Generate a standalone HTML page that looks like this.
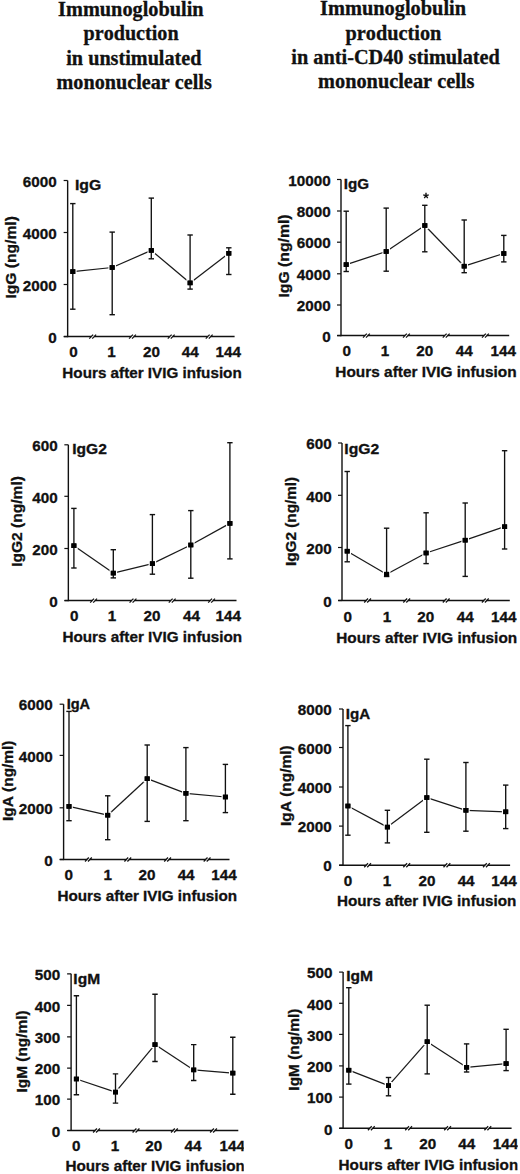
<!DOCTYPE html>
<html><head><meta charset="utf-8"><title>Immunoglobulin production</title><style>
html,body{margin:0;padding:0;background:#fff;width:520px;height:1174px;overflow:hidden;font-family:"Liberation Sans",sans-serif}
svg{display:block}
text{font-kerning:none;fill:#111;stroke:#111;stroke-width:0.3px}
.S{font-family:"Liberation Sans",sans-serif;font-weight:bold}
.T{font-family:"Liberation Serif",serif;font-weight:bold}
</style></head><body>
<svg width="520" height="1174" viewBox="0 0 520 1174">
<defs><clipPath id="clipG"><rect x="0" y="0" width="243.8" height="1174"/></clipPath><clipPath id="clipH"><rect x="0" y="0" width="517.7" height="1174"/></clipPath></defs>
<text class="T" x="58.12" y="16.3" font-size="20" textLength="145.49" lengthAdjust="spacingAndGlyphs">Immunoglobulin</text>
<text class="T" x="83.54" y="40.4" font-size="20" textLength="95.06" lengthAdjust="spacingAndGlyphs">production</text>
<text class="T" x="66.26" y="64.5" font-size="20" textLength="135.27" lengthAdjust="spacingAndGlyphs">in unstimulated</text>
<text class="T" x="56.56" y="88.5" font-size="20" textLength="155.23" lengthAdjust="spacingAndGlyphs">mononuclear cells</text>
<text class="T" x="320.01" y="15.4" font-size="20" textLength="146.09" lengthAdjust="spacingAndGlyphs">Immunoglobulin</text>
<text class="T" x="345.54" y="39.5" font-size="20" textLength="95.86" lengthAdjust="spacingAndGlyphs">production</text>
<text class="T" x="291.35" y="63.5" font-size="20" textLength="208.57" lengthAdjust="spacingAndGlyphs">in anti-CD40 stimulated</text>
<text class="T" x="318.05" y="87.5" font-size="20" textLength="156.34" lengthAdjust="spacingAndGlyphs">mononuclear cells</text>
<line x1="67.65" y1="180.5" x2="67.65" y2="337.2" stroke="#111" stroke-width="1.4"/>
<line x1="63.85" y1="336.6" x2="234.6" y2="336.6" stroke="#111" stroke-width="1.5"/>
<line x1="63.65" y1="180.5" x2="67.65" y2="180.5" stroke="#111" stroke-width="1.2"/>
<text class="S" x="22.71" y="186.7" font-size="14.8" textLength="33.91" lengthAdjust="spacingAndGlyphs">6000</text>
<line x1="63.65" y1="232.5" x2="67.65" y2="232.5" stroke="#111" stroke-width="1.2"/>
<text class="S" x="22.71" y="238.7" font-size="14.8" textLength="33.91" lengthAdjust="spacingAndGlyphs">4000</text>
<line x1="63.65" y1="284.5" x2="67.65" y2="284.5" stroke="#111" stroke-width="1.2"/>
<text class="S" x="22.71" y="290.7" font-size="14.8" textLength="33.91" lengthAdjust="spacingAndGlyphs">2000</text>
<line x1="63.65" y1="336.6" x2="67.65" y2="336.6" stroke="#111" stroke-width="1.2"/>
<text class="S" x="48.15" y="342.8" font-size="14.8" textLength="8.48" lengthAdjust="spacingAndGlyphs">0</text>
<rect x="91.4" y="335.4" width="2.6" height="2.4" fill="#fff"/>
<line x1="89.3" y1="338.6" x2="93.1" y2="334.6" stroke="#111" stroke-width="1.25"/>
<line x1="92.3" y1="338.6" x2="96.1" y2="334.6" stroke="#111" stroke-width="1.25"/>
<rect x="131.2" y="335.4" width="2.6" height="2.4" fill="#fff"/>
<line x1="129.1" y1="338.6" x2="132.9" y2="334.6" stroke="#111" stroke-width="1.25"/>
<line x1="132.1" y1="338.6" x2="135.9" y2="334.6" stroke="#111" stroke-width="1.25"/>
<rect x="169.9" y="335.4" width="2.6" height="2.4" fill="#fff"/>
<line x1="167.8" y1="338.6" x2="171.6" y2="334.6" stroke="#111" stroke-width="1.25"/>
<line x1="170.8" y1="338.6" x2="174.6" y2="334.6" stroke="#111" stroke-width="1.25"/>
<rect x="207.9" y="335.4" width="2.6" height="2.4" fill="#fff"/>
<line x1="205.8" y1="338.6" x2="209.6" y2="334.6" stroke="#111" stroke-width="1.25"/>
<line x1="208.8" y1="338.6" x2="212.6" y2="334.6" stroke="#111" stroke-width="1.25"/>
<line x1="72.8" y1="271.6" x2="112.2" y2="267.5" stroke="#1a1a1a" stroke-width="1.25"/>
<line x1="112.2" y1="267.5" x2="151.3" y2="250.4" stroke="#1a1a1a" stroke-width="1.25"/>
<line x1="151.3" y1="250.4" x2="190.1" y2="282.9" stroke="#1a1a1a" stroke-width="1.25"/>
<line x1="190.1" y1="282.9" x2="228.8" y2="253.3" stroke="#1a1a1a" stroke-width="1.25"/>
<rect x="70.3" y="269.3" width="5" height="4.6" fill="#000" stroke="#fff" stroke-width="2.6" paint-order="stroke"/>
<rect x="109.7" y="265.2" width="5" height="4.6" fill="#000" stroke="#fff" stroke-width="2.6" paint-order="stroke"/>
<rect x="148.8" y="248.1" width="5" height="4.6" fill="#000" stroke="#fff" stroke-width="2.6" paint-order="stroke"/>
<rect x="187.6" y="280.6" width="5" height="4.6" fill="#000" stroke="#fff" stroke-width="2.6" paint-order="stroke"/>
<rect x="226.3" y="251" width="5" height="4.6" fill="#000" stroke="#fff" stroke-width="2.6" paint-order="stroke"/>
<line x1="72.8" y1="203.6" x2="72.8" y2="309.2" stroke="#111" stroke-width="1.35"/>
<line x1="70.1" y1="203.6" x2="75.5" y2="203.6" stroke="#111" stroke-width="1.4"/>
<line x1="70.1" y1="309.2" x2="75.5" y2="309.2" stroke="#111" stroke-width="1.4"/>
<rect x="70.3" y="269.3" width="5" height="4.6" fill="#000"/>
<line x1="112.2" y1="232.1" x2="112.2" y2="314.7" stroke="#111" stroke-width="1.35"/>
<line x1="109.5" y1="232.1" x2="114.9" y2="232.1" stroke="#111" stroke-width="1.4"/>
<line x1="109.5" y1="314.7" x2="114.9" y2="314.7" stroke="#111" stroke-width="1.4"/>
<rect x="109.7" y="265.2" width="5" height="4.6" fill="#000"/>
<line x1="151.3" y1="198.1" x2="151.3" y2="258.8" stroke="#111" stroke-width="1.35"/>
<line x1="148.6" y1="198.1" x2="154" y2="198.1" stroke="#111" stroke-width="1.4"/>
<line x1="148.6" y1="258.8" x2="154" y2="258.8" stroke="#111" stroke-width="1.4"/>
<rect x="148.8" y="248.1" width="5" height="4.6" fill="#000"/>
<line x1="190.1" y1="235" x2="190.1" y2="289.1" stroke="#111" stroke-width="1.35"/>
<line x1="187.4" y1="235" x2="192.8" y2="235" stroke="#111" stroke-width="1.4"/>
<line x1="187.4" y1="289.1" x2="192.8" y2="289.1" stroke="#111" stroke-width="1.4"/>
<rect x="187.6" y="280.6" width="5" height="4.6" fill="#000"/>
<line x1="228.8" y1="247.8" x2="228.8" y2="274.5" stroke="#111" stroke-width="1.35"/>
<line x1="226.1" y1="247.8" x2="231.5" y2="247.8" stroke="#111" stroke-width="1.4"/>
<line x1="226.1" y1="274.5" x2="231.5" y2="274.5" stroke="#111" stroke-width="1.4"/>
<rect x="226.3" y="251" width="5" height="4.6" fill="#000"/>
<text class="S" x="69.37" y="356.6" font-size="14.8" textLength="8.48" lengthAdjust="spacingAndGlyphs">0</text>
<text class="S" x="107.29" y="356.6" font-size="14.8" textLength="8.48" lengthAdjust="spacingAndGlyphs">1</text>
<text class="S" x="143.07" y="356.6" font-size="14.8" textLength="16.96" lengthAdjust="spacingAndGlyphs">20</text>
<text class="S" x="181.75" y="356.6" font-size="14.8" textLength="16.96" lengthAdjust="spacingAndGlyphs">44</text>
<text class="S" x="215.64" y="356.6" font-size="14.8" textLength="25.43" lengthAdjust="spacingAndGlyphs">144</text>
<text class="S" x="62.38" y="377.8" font-size="14.6" textLength="179.36" lengthAdjust="spacingAndGlyphs">Hours after IVIG infusion</text>
<text class="S" transform="rotate(-90)" x="-298.54" y="16.4" font-size="15.3" textLength="82.42" lengthAdjust="spacingAndGlyphs">IgG (ng/ml)</text>
<text class="S" x="74.94" y="190.1" font-size="14.6" textLength="26.34" lengthAdjust="spacingAndGlyphs">IgG</text>
<line x1="341" y1="179.5" x2="341" y2="336.2" stroke="#111" stroke-width="1.4"/>
<line x1="337.2" y1="335.6" x2="509.2" y2="335.6" stroke="#111" stroke-width="1.5"/>
<line x1="337" y1="179.5" x2="341" y2="179.5" stroke="#111" stroke-width="1.2"/>
<text class="S" x="288.24" y="185.7" font-size="14.8" textLength="42.39" lengthAdjust="spacingAndGlyphs">10000</text>
<line x1="337" y1="211" x2="341" y2="211" stroke="#111" stroke-width="1.2"/>
<text class="S" x="296.71" y="217.2" font-size="14.8" textLength="33.91" lengthAdjust="spacingAndGlyphs">8000</text>
<line x1="337" y1="242.2" x2="341" y2="242.2" stroke="#111" stroke-width="1.2"/>
<text class="S" x="296.71" y="248.4" font-size="14.8" textLength="33.91" lengthAdjust="spacingAndGlyphs">6000</text>
<line x1="337" y1="273.8" x2="341" y2="273.8" stroke="#111" stroke-width="1.2"/>
<text class="S" x="296.71" y="280" font-size="14.8" textLength="33.91" lengthAdjust="spacingAndGlyphs">4000</text>
<line x1="337" y1="305" x2="341" y2="305" stroke="#111" stroke-width="1.2"/>
<text class="S" x="296.71" y="311.2" font-size="14.8" textLength="33.91" lengthAdjust="spacingAndGlyphs">2000</text>
<line x1="337" y1="335.6" x2="341" y2="335.6" stroke="#111" stroke-width="1.2"/>
<text class="S" x="322.15" y="341.8" font-size="14.8" textLength="8.48" lengthAdjust="spacingAndGlyphs">0</text>
<rect x="365.1" y="334.4" width="2.6" height="2.4" fill="#fff"/>
<line x1="363" y1="337.6" x2="366.8" y2="333.6" stroke="#111" stroke-width="1.25"/>
<line x1="366" y1="337.6" x2="369.8" y2="333.6" stroke="#111" stroke-width="1.25"/>
<rect x="405.1" y="334.4" width="2.6" height="2.4" fill="#fff"/>
<line x1="403" y1="337.6" x2="406.8" y2="333.6" stroke="#111" stroke-width="1.25"/>
<line x1="406" y1="337.6" x2="409.8" y2="333.6" stroke="#111" stroke-width="1.25"/>
<rect x="444.9" y="334.4" width="2.6" height="2.4" fill="#fff"/>
<line x1="442.8" y1="337.6" x2="446.6" y2="333.6" stroke="#111" stroke-width="1.25"/>
<line x1="445.8" y1="337.6" x2="449.6" y2="333.6" stroke="#111" stroke-width="1.25"/>
<rect x="484.1" y="334.4" width="2.6" height="2.4" fill="#fff"/>
<line x1="482" y1="337.6" x2="485.8" y2="333.6" stroke="#111" stroke-width="1.25"/>
<line x1="485" y1="337.6" x2="488.8" y2="333.6" stroke="#111" stroke-width="1.25"/>
<line x1="346.2" y1="264.6" x2="386.2" y2="251.5" stroke="#1a1a1a" stroke-width="1.25"/>
<line x1="386.2" y1="251.5" x2="424.8" y2="225.5" stroke="#1a1a1a" stroke-width="1.25"/>
<line x1="424.8" y1="225.5" x2="464.2" y2="266.2" stroke="#1a1a1a" stroke-width="1.25"/>
<line x1="464.2" y1="266.2" x2="503.8" y2="253.5" stroke="#1a1a1a" stroke-width="1.25"/>
<rect x="343.7" y="262.3" width="5" height="4.6" fill="#000" stroke="#fff" stroke-width="2.6" paint-order="stroke"/>
<rect x="383.7" y="249.2" width="5" height="4.6" fill="#000" stroke="#fff" stroke-width="2.6" paint-order="stroke"/>
<rect x="422.3" y="223.2" width="5" height="4.6" fill="#000" stroke="#fff" stroke-width="2.6" paint-order="stroke"/>
<rect x="461.7" y="263.9" width="5" height="4.6" fill="#000" stroke="#fff" stroke-width="2.6" paint-order="stroke"/>
<rect x="501.3" y="251.2" width="5" height="4.6" fill="#000" stroke="#fff" stroke-width="2.6" paint-order="stroke"/>
<line x1="346.2" y1="211.2" x2="346.2" y2="271.5" stroke="#111" stroke-width="1.35"/>
<line x1="343.5" y1="211.2" x2="348.9" y2="211.2" stroke="#111" stroke-width="1.4"/>
<line x1="343.5" y1="271.5" x2="348.9" y2="271.5" stroke="#111" stroke-width="1.4"/>
<rect x="343.7" y="262.3" width="5" height="4.6" fill="#000"/>
<line x1="386.2" y1="208.1" x2="386.2" y2="271.2" stroke="#111" stroke-width="1.35"/>
<line x1="383.5" y1="208.1" x2="388.9" y2="208.1" stroke="#111" stroke-width="1.4"/>
<line x1="383.5" y1="271.2" x2="388.9" y2="271.2" stroke="#111" stroke-width="1.4"/>
<rect x="383.7" y="249.2" width="5" height="4.6" fill="#000"/>
<line x1="424.8" y1="205.3" x2="424.8" y2="251.8" stroke="#111" stroke-width="1.35"/>
<line x1="422.1" y1="205.3" x2="427.5" y2="205.3" stroke="#111" stroke-width="1.4"/>
<line x1="422.1" y1="251.8" x2="427.5" y2="251.8" stroke="#111" stroke-width="1.4"/>
<rect x="422.3" y="223.2" width="5" height="4.6" fill="#000"/>
<line x1="464.2" y1="220" x2="464.2" y2="272.7" stroke="#111" stroke-width="1.35"/>
<line x1="461.5" y1="220" x2="466.9" y2="220" stroke="#111" stroke-width="1.4"/>
<line x1="461.5" y1="272.7" x2="466.9" y2="272.7" stroke="#111" stroke-width="1.4"/>
<rect x="461.7" y="263.9" width="5" height="4.6" fill="#000"/>
<line x1="503.8" y1="235.4" x2="503.8" y2="261.9" stroke="#111" stroke-width="1.35"/>
<line x1="501.1" y1="235.4" x2="506.5" y2="235.4" stroke="#111" stroke-width="1.4"/>
<line x1="501.1" y1="261.9" x2="506.5" y2="261.9" stroke="#111" stroke-width="1.4"/>
<rect x="501.3" y="251.2" width="5" height="4.6" fill="#000"/>
<text class="S" x="342.47" y="356.4" font-size="14.8" textLength="8.48" lengthAdjust="spacingAndGlyphs">0</text>
<text class="S" x="380.79" y="356.4" font-size="14.8" textLength="8.48" lengthAdjust="spacingAndGlyphs">1</text>
<text class="S" x="416.17" y="356.4" font-size="14.8" textLength="16.96" lengthAdjust="spacingAndGlyphs">20</text>
<text class="S" x="455.85" y="356.4" font-size="14.8" textLength="16.96" lengthAdjust="spacingAndGlyphs">44</text>
<text class="S" x="490.44" y="356.4" font-size="14.8" textLength="25.43" lengthAdjust="spacingAndGlyphs">144</text>
<text class="S" x="335.37" y="377.1" font-size="14.6" textLength="181.28" lengthAdjust="spacingAndGlyphs">Hours after IVIG infusion</text>
<text class="S" transform="rotate(-90)" x="-297.55" y="289.2" font-size="15.3" textLength="83.14" lengthAdjust="spacingAndGlyphs">IgG (ng/ml)</text>
<text class="S" x="343.78" y="189.4" font-size="14.6" textLength="25.36" lengthAdjust="spacingAndGlyphs">IgG</text>
<line x1="426" y1="195.7" x2="426" y2="192.8" stroke="#111" stroke-width="1.4"/>
<line x1="426" y1="195.7" x2="428.76" y2="194.8" stroke="#111" stroke-width="1.4"/>
<line x1="426" y1="195.7" x2="427.7" y2="198.05" stroke="#111" stroke-width="1.4"/>
<line x1="426" y1="195.7" x2="424.3" y2="198.05" stroke="#111" stroke-width="1.4"/>
<line x1="426" y1="195.7" x2="423.24" y2="194.8" stroke="#111" stroke-width="1.4"/>
<line x1="68.35" y1="444.8" x2="68.35" y2="601.2" stroke="#111" stroke-width="1.4"/>
<line x1="64.55" y1="600.6" x2="236.5" y2="600.6" stroke="#111" stroke-width="1.5"/>
<line x1="64.35" y1="444.8" x2="68.35" y2="444.8" stroke="#111" stroke-width="1.2"/>
<text class="S" x="32.19" y="451" font-size="14.8" textLength="25.43" lengthAdjust="spacingAndGlyphs">600</text>
<line x1="64.35" y1="496.3" x2="68.35" y2="496.3" stroke="#111" stroke-width="1.2"/>
<text class="S" x="32.19" y="502.5" font-size="14.8" textLength="25.43" lengthAdjust="spacingAndGlyphs">400</text>
<line x1="64.35" y1="548.5" x2="68.35" y2="548.5" stroke="#111" stroke-width="1.2"/>
<text class="S" x="32.19" y="554.7" font-size="14.8" textLength="25.43" lengthAdjust="spacingAndGlyphs">200</text>
<line x1="64.35" y1="600.6" x2="68.35" y2="600.6" stroke="#111" stroke-width="1.2"/>
<text class="S" x="49.15" y="606.8" font-size="14.8" textLength="8.48" lengthAdjust="spacingAndGlyphs">0</text>
<rect x="92.3" y="599.4" width="2.6" height="2.4" fill="#fff"/>
<line x1="90.2" y1="602.6" x2="94" y2="598.6" stroke="#111" stroke-width="1.25"/>
<line x1="93.2" y1="602.6" x2="97" y2="598.6" stroke="#111" stroke-width="1.25"/>
<rect x="131.7" y="599.4" width="2.6" height="2.4" fill="#fff"/>
<line x1="129.6" y1="602.6" x2="133.4" y2="598.6" stroke="#111" stroke-width="1.25"/>
<line x1="132.6" y1="602.6" x2="136.4" y2="598.6" stroke="#111" stroke-width="1.25"/>
<rect x="170.9" y="599.4" width="2.6" height="2.4" fill="#fff"/>
<line x1="168.8" y1="602.6" x2="172.6" y2="598.6" stroke="#111" stroke-width="1.25"/>
<line x1="171.8" y1="602.6" x2="175.6" y2="598.6" stroke="#111" stroke-width="1.25"/>
<rect x="210.3" y="599.4" width="2.6" height="2.4" fill="#fff"/>
<line x1="208.2" y1="602.6" x2="212" y2="598.6" stroke="#111" stroke-width="1.25"/>
<line x1="211.2" y1="602.6" x2="215" y2="598.6" stroke="#111" stroke-width="1.25"/>
<line x1="73.9" y1="545.7" x2="113.3" y2="573.1" stroke="#1a1a1a" stroke-width="1.25"/>
<line x1="113.3" y1="573.1" x2="152.4" y2="563.6" stroke="#1a1a1a" stroke-width="1.25"/>
<line x1="152.4" y1="563.6" x2="190.8" y2="545" stroke="#1a1a1a" stroke-width="1.25"/>
<line x1="190.8" y1="545" x2="229.9" y2="523.4" stroke="#1a1a1a" stroke-width="1.25"/>
<rect x="71.4" y="543.4" width="5" height="4.6" fill="#000" stroke="#fff" stroke-width="2.6" paint-order="stroke"/>
<rect x="110.8" y="570.8" width="5" height="4.6" fill="#000" stroke="#fff" stroke-width="2.6" paint-order="stroke"/>
<rect x="149.9" y="561.3" width="5" height="4.6" fill="#000" stroke="#fff" stroke-width="2.6" paint-order="stroke"/>
<rect x="188.3" y="542.7" width="5" height="4.6" fill="#000" stroke="#fff" stroke-width="2.6" paint-order="stroke"/>
<rect x="227.4" y="521.1" width="5" height="4.6" fill="#000" stroke="#fff" stroke-width="2.6" paint-order="stroke"/>
<line x1="73.9" y1="508.4" x2="73.9" y2="568" stroke="#111" stroke-width="1.35"/>
<line x1="71.2" y1="508.4" x2="76.6" y2="508.4" stroke="#111" stroke-width="1.4"/>
<line x1="71.2" y1="568" x2="76.6" y2="568" stroke="#111" stroke-width="1.4"/>
<rect x="71.4" y="543.4" width="5" height="4.6" fill="#000"/>
<line x1="113.3" y1="549.7" x2="113.3" y2="577.9" stroke="#111" stroke-width="1.35"/>
<line x1="110.6" y1="549.7" x2="116" y2="549.7" stroke="#111" stroke-width="1.4"/>
<line x1="110.6" y1="577.9" x2="116" y2="577.9" stroke="#111" stroke-width="1.4"/>
<rect x="110.8" y="570.8" width="5" height="4.6" fill="#000"/>
<line x1="152.4" y1="514.6" x2="152.4" y2="574.2" stroke="#111" stroke-width="1.35"/>
<line x1="149.7" y1="514.6" x2="155.1" y2="514.6" stroke="#111" stroke-width="1.4"/>
<line x1="149.7" y1="574.2" x2="155.1" y2="574.2" stroke="#111" stroke-width="1.4"/>
<rect x="149.9" y="561.3" width="5" height="4.6" fill="#000"/>
<line x1="190.8" y1="510.6" x2="190.8" y2="578.2" stroke="#111" stroke-width="1.35"/>
<line x1="188.1" y1="510.6" x2="193.5" y2="510.6" stroke="#111" stroke-width="1.4"/>
<line x1="188.1" y1="578.2" x2="193.5" y2="578.2" stroke="#111" stroke-width="1.4"/>
<rect x="188.3" y="542.7" width="5" height="4.6" fill="#000"/>
<line x1="229.9" y1="442.7" x2="229.9" y2="558.9" stroke="#111" stroke-width="1.35"/>
<line x1="227.2" y1="442.7" x2="232.6" y2="442.7" stroke="#111" stroke-width="1.4"/>
<line x1="227.2" y1="558.9" x2="232.6" y2="558.9" stroke="#111" stroke-width="1.4"/>
<rect x="227.4" y="521.1" width="5" height="4.6" fill="#000"/>
<text class="S" x="69.97" y="621.3" font-size="14.8" textLength="8.48" lengthAdjust="spacingAndGlyphs">0</text>
<text class="S" x="107.79" y="621.3" font-size="14.8" textLength="8.48" lengthAdjust="spacingAndGlyphs">1</text>
<text class="S" x="143.47" y="621.3" font-size="14.8" textLength="16.96" lengthAdjust="spacingAndGlyphs">20</text>
<text class="S" x="182.95" y="621.3" font-size="14.8" textLength="16.96" lengthAdjust="spacingAndGlyphs">44</text>
<text class="S" x="215.64" y="621.3" font-size="14.8" textLength="25.43" lengthAdjust="spacingAndGlyphs">144</text>
<text class="S" x="62.48" y="641.9" font-size="14.6" textLength="179.67" lengthAdjust="spacingAndGlyphs">Hours after IVIG infusion</text>
<text class="S" transform="rotate(-90)" x="-566.84" y="22.1" font-size="15.3" textLength="90.71" lengthAdjust="spacingAndGlyphs">IgG2 (ng/ml)</text>
<text class="S" x="72.26" y="454.3" font-size="14.6" textLength="34.67" lengthAdjust="spacingAndGlyphs">IgG2</text>
<line x1="342" y1="443" x2="342" y2="601.1" stroke="#111" stroke-width="1.4"/>
<line x1="338.2" y1="600.5" x2="509.8" y2="600.5" stroke="#111" stroke-width="1.5"/>
<line x1="338" y1="443" x2="342" y2="443" stroke="#111" stroke-width="1.2"/>
<text class="S" x="306.19" y="449.2" font-size="14.8" textLength="25.43" lengthAdjust="spacingAndGlyphs">600</text>
<line x1="338" y1="495.3" x2="342" y2="495.3" stroke="#111" stroke-width="1.2"/>
<text class="S" x="306.19" y="501.5" font-size="14.8" textLength="25.43" lengthAdjust="spacingAndGlyphs">400</text>
<line x1="338" y1="547.5" x2="342" y2="547.5" stroke="#111" stroke-width="1.2"/>
<text class="S" x="306.19" y="553.7" font-size="14.8" textLength="25.43" lengthAdjust="spacingAndGlyphs">200</text>
<line x1="338" y1="600.5" x2="342" y2="600.5" stroke="#111" stroke-width="1.2"/>
<text class="S" x="323.15" y="606.7" font-size="14.8" textLength="8.48" lengthAdjust="spacingAndGlyphs">0</text>
<rect x="366.3" y="599.3" width="2.6" height="2.4" fill="#fff"/>
<line x1="364.2" y1="602.5" x2="368" y2="598.5" stroke="#111" stroke-width="1.25"/>
<line x1="367.2" y1="602.5" x2="371" y2="598.5" stroke="#111" stroke-width="1.25"/>
<rect x="405.4" y="599.3" width="2.6" height="2.4" fill="#fff"/>
<line x1="403.3" y1="602.5" x2="407.1" y2="598.5" stroke="#111" stroke-width="1.25"/>
<line x1="406.3" y1="602.5" x2="410.1" y2="598.5" stroke="#111" stroke-width="1.25"/>
<rect x="444.9" y="599.3" width="2.6" height="2.4" fill="#fff"/>
<line x1="442.8" y1="602.5" x2="446.6" y2="598.5" stroke="#111" stroke-width="1.25"/>
<line x1="445.8" y1="602.5" x2="449.6" y2="598.5" stroke="#111" stroke-width="1.25"/>
<rect x="484" y="599.3" width="2.6" height="2.4" fill="#fff"/>
<line x1="481.9" y1="602.5" x2="485.7" y2="598.5" stroke="#111" stroke-width="1.25"/>
<line x1="484.9" y1="602.5" x2="488.7" y2="598.5" stroke="#111" stroke-width="1.25"/>
<line x1="347.2" y1="551.2" x2="386.6" y2="574.2" stroke="#1a1a1a" stroke-width="1.25"/>
<line x1="386.6" y1="574.2" x2="426.1" y2="553" stroke="#1a1a1a" stroke-width="1.25"/>
<line x1="426.1" y1="553" x2="465.2" y2="540.2" stroke="#1a1a1a" stroke-width="1.25"/>
<line x1="465.2" y1="540.2" x2="504.6" y2="526.7" stroke="#1a1a1a" stroke-width="1.25"/>
<rect x="344.7" y="548.9" width="5" height="4.6" fill="#000" stroke="#fff" stroke-width="2.6" paint-order="stroke"/>
<rect x="384.1" y="571.9" width="5" height="4.6" fill="#000" stroke="#fff" stroke-width="2.6" paint-order="stroke"/>
<rect x="423.6" y="550.7" width="5" height="4.6" fill="#000" stroke="#fff" stroke-width="2.6" paint-order="stroke"/>
<rect x="462.7" y="537.9" width="5" height="4.6" fill="#000" stroke="#fff" stroke-width="2.6" paint-order="stroke"/>
<rect x="502.1" y="524.4" width="5" height="4.6" fill="#000" stroke="#fff" stroke-width="2.6" paint-order="stroke"/>
<line x1="347.2" y1="471.5" x2="347.2" y2="561.8" stroke="#111" stroke-width="1.35"/>
<line x1="344.5" y1="471.5" x2="349.9" y2="471.5" stroke="#111" stroke-width="1.4"/>
<line x1="344.5" y1="561.8" x2="349.9" y2="561.8" stroke="#111" stroke-width="1.4"/>
<rect x="344.7" y="548.9" width="5" height="4.6" fill="#000"/>
<line x1="386.6" y1="528.2" x2="386.6" y2="576.5" stroke="#111" stroke-width="1.35"/>
<line x1="383.9" y1="528.2" x2="389.3" y2="528.2" stroke="#111" stroke-width="1.4"/>
<line x1="383.9" y1="576.5" x2="389.3" y2="576.5" stroke="#111" stroke-width="1.4"/>
<rect x="384.1" y="571.9" width="5" height="4.6" fill="#000"/>
<line x1="426.1" y1="512.8" x2="426.1" y2="563.6" stroke="#111" stroke-width="1.35"/>
<line x1="423.4" y1="512.8" x2="428.8" y2="512.8" stroke="#111" stroke-width="1.4"/>
<line x1="423.4" y1="563.6" x2="428.8" y2="563.6" stroke="#111" stroke-width="1.4"/>
<rect x="423.6" y="550.7" width="5" height="4.6" fill="#000"/>
<line x1="465.2" y1="503" x2="465.2" y2="576.4" stroke="#111" stroke-width="1.35"/>
<line x1="462.5" y1="503" x2="467.9" y2="503" stroke="#111" stroke-width="1.4"/>
<line x1="462.5" y1="576.4" x2="467.9" y2="576.4" stroke="#111" stroke-width="1.4"/>
<rect x="462.7" y="537.9" width="5" height="4.6" fill="#000"/>
<line x1="504.6" y1="450.7" x2="504.6" y2="549" stroke="#111" stroke-width="1.35"/>
<line x1="501.9" y1="450.7" x2="507.3" y2="450.7" stroke="#111" stroke-width="1.4"/>
<line x1="501.9" y1="549" x2="507.3" y2="549" stroke="#111" stroke-width="1.4"/>
<rect x="502.1" y="524.4" width="5" height="4.6" fill="#000"/>
<text class="S" x="343.47" y="621.6" font-size="14.8" textLength="8.48" lengthAdjust="spacingAndGlyphs">0</text>
<text class="S" x="382.79" y="621.6" font-size="14.8" textLength="8.48" lengthAdjust="spacingAndGlyphs">1</text>
<text class="S" x="417.37" y="621.6" font-size="14.8" textLength="16.96" lengthAdjust="spacingAndGlyphs">20</text>
<text class="S" x="456.85" y="621.6" font-size="14.8" textLength="16.96" lengthAdjust="spacingAndGlyphs">44</text>
<text class="S" x="491.04" y="621.6" font-size="14.8" textLength="25.43" lengthAdjust="spacingAndGlyphs">144</text>
<text class="S" x="336.27" y="642.5" font-size="14.6" textLength="180.88" lengthAdjust="spacingAndGlyphs">Hours after IVIG infusion</text>
<text class="S" transform="rotate(-90)" x="-566.02" y="295.6" font-size="15.3" textLength="89.18" lengthAdjust="spacingAndGlyphs">IgG2 (ng/ml)</text>
<text class="S" x="344.35" y="454" font-size="14.6" textLength="34.98" lengthAdjust="spacingAndGlyphs">IgG2</text>
<line x1="63.6" y1="704.2" x2="63.6" y2="860.1" stroke="#111" stroke-width="1.4"/>
<line x1="59.8" y1="859.5" x2="229.5" y2="859.5" stroke="#111" stroke-width="1.5"/>
<line x1="59.6" y1="704.2" x2="63.6" y2="704.2" stroke="#111" stroke-width="1.2"/>
<text class="S" x="18.81" y="710.4" font-size="14.8" textLength="33.91" lengthAdjust="spacingAndGlyphs">6000</text>
<line x1="59.6" y1="755.4" x2="63.6" y2="755.4" stroke="#111" stroke-width="1.2"/>
<text class="S" x="18.81" y="761.6" font-size="14.8" textLength="33.91" lengthAdjust="spacingAndGlyphs">4000</text>
<line x1="59.6" y1="807.8" x2="63.6" y2="807.8" stroke="#111" stroke-width="1.2"/>
<text class="S" x="18.81" y="814" font-size="14.8" textLength="33.91" lengthAdjust="spacingAndGlyphs">2000</text>
<line x1="59.6" y1="859.5" x2="63.6" y2="859.5" stroke="#111" stroke-width="1.2"/>
<text class="S" x="44.25" y="865.7" font-size="14.8" textLength="8.48" lengthAdjust="spacingAndGlyphs">0</text>
<rect x="87.1" y="858.3" width="2.6" height="2.4" fill="#fff"/>
<line x1="85" y1="861.5" x2="88.8" y2="857.5" stroke="#111" stroke-width="1.25"/>
<line x1="88" y1="861.5" x2="91.8" y2="857.5" stroke="#111" stroke-width="1.25"/>
<rect x="126.5" y="858.3" width="2.6" height="2.4" fill="#fff"/>
<line x1="124.4" y1="861.5" x2="128.2" y2="857.5" stroke="#111" stroke-width="1.25"/>
<line x1="127.4" y1="861.5" x2="131.2" y2="857.5" stroke="#111" stroke-width="1.25"/>
<rect x="166.3" y="858.3" width="2.6" height="2.4" fill="#fff"/>
<line x1="164.2" y1="861.5" x2="168" y2="857.5" stroke="#111" stroke-width="1.25"/>
<line x1="167.2" y1="861.5" x2="171" y2="857.5" stroke="#111" stroke-width="1.25"/>
<rect x="205.8" y="858.3" width="2.6" height="2.4" fill="#fff"/>
<line x1="203.7" y1="861.5" x2="207.5" y2="857.5" stroke="#111" stroke-width="1.25"/>
<line x1="206.7" y1="861.5" x2="210.5" y2="857.5" stroke="#111" stroke-width="1.25"/>
<line x1="69" y1="806.4" x2="107.7" y2="815.2" stroke="#1a1a1a" stroke-width="1.25"/>
<line x1="107.7" y1="815.2" x2="147.2" y2="778.7" stroke="#1a1a1a" stroke-width="1.25"/>
<line x1="147.2" y1="778.7" x2="185.9" y2="793.3" stroke="#1a1a1a" stroke-width="1.25"/>
<line x1="185.9" y1="793.3" x2="225.4" y2="797" stroke="#1a1a1a" stroke-width="1.25"/>
<rect x="66.5" y="804.1" width="5" height="4.6" fill="#000" stroke="#fff" stroke-width="2.6" paint-order="stroke"/>
<rect x="105.2" y="812.9" width="5" height="4.6" fill="#000" stroke="#fff" stroke-width="2.6" paint-order="stroke"/>
<rect x="144.7" y="776.4" width="5" height="4.6" fill="#000" stroke="#fff" stroke-width="2.6" paint-order="stroke"/>
<rect x="183.4" y="791" width="5" height="4.6" fill="#000" stroke="#fff" stroke-width="2.6" paint-order="stroke"/>
<rect x="222.9" y="794.7" width="5" height="4.6" fill="#000" stroke="#fff" stroke-width="2.6" paint-order="stroke"/>
<line x1="69" y1="711.4" x2="69" y2="820.7" stroke="#111" stroke-width="1.35"/>
<line x1="66.3" y1="711.4" x2="71.7" y2="711.4" stroke="#111" stroke-width="1.4"/>
<line x1="66.3" y1="820.7" x2="71.7" y2="820.7" stroke="#111" stroke-width="1.4"/>
<rect x="66.5" y="804.1" width="5" height="4.6" fill="#000"/>
<line x1="107.7" y1="795.8" x2="107.7" y2="839.7" stroke="#111" stroke-width="1.35"/>
<line x1="105" y1="795.8" x2="110.4" y2="795.8" stroke="#111" stroke-width="1.4"/>
<line x1="105" y1="839.7" x2="110.4" y2="839.7" stroke="#111" stroke-width="1.4"/>
<rect x="105.2" y="812.9" width="5" height="4.6" fill="#000"/>
<line x1="147.2" y1="745" x2="147.2" y2="821.4" stroke="#111" stroke-width="1.35"/>
<line x1="144.5" y1="745" x2="149.9" y2="745" stroke="#111" stroke-width="1.4"/>
<line x1="144.5" y1="821.4" x2="149.9" y2="821.4" stroke="#111" stroke-width="1.4"/>
<rect x="144.7" y="776.4" width="5" height="4.6" fill="#000"/>
<line x1="185.9" y1="747.6" x2="185.9" y2="820.7" stroke="#111" stroke-width="1.35"/>
<line x1="183.2" y1="747.6" x2="188.6" y2="747.6" stroke="#111" stroke-width="1.4"/>
<line x1="183.2" y1="820.7" x2="188.6" y2="820.7" stroke="#111" stroke-width="1.4"/>
<rect x="183.4" y="791" width="5" height="4.6" fill="#000"/>
<line x1="225.4" y1="764.4" x2="225.4" y2="812.6" stroke="#111" stroke-width="1.35"/>
<line x1="222.7" y1="764.4" x2="228.1" y2="764.4" stroke="#111" stroke-width="1.4"/>
<line x1="222.7" y1="812.6" x2="228.1" y2="812.6" stroke="#111" stroke-width="1.4"/>
<rect x="222.9" y="794.7" width="5" height="4.6" fill="#000"/>
<text class="S" x="64.57" y="879.8" font-size="14.8" textLength="8.48" lengthAdjust="spacingAndGlyphs">0</text>
<text class="S" x="103.59" y="879.8" font-size="14.8" textLength="8.48" lengthAdjust="spacingAndGlyphs">1</text>
<text class="S" x="138.47" y="879.8" font-size="14.8" textLength="16.96" lengthAdjust="spacingAndGlyphs">20</text>
<text class="S" x="177.65" y="879.8" font-size="14.8" textLength="16.96" lengthAdjust="spacingAndGlyphs">44</text>
<text class="S" x="211.34" y="879.8" font-size="14.8" textLength="25.43" lengthAdjust="spacingAndGlyphs">144</text>
<text class="S" x="57.48" y="900.8" font-size="14.6" textLength="179.67" lengthAdjust="spacingAndGlyphs">Hours after IVIG infusion</text>
<text class="S" transform="rotate(-90)" x="-821.03" y="12.8" font-size="15.3" textLength="80.5" lengthAdjust="spacingAndGlyphs">IgA (ng/ml)</text>
<text class="S" x="66.63" y="708.5" font-size="14.6" textLength="23.46" lengthAdjust="spacingAndGlyphs">IgA</text>
<line x1="343" y1="709" x2="343" y2="865.8" stroke="#111" stroke-width="1.4"/>
<line x1="339.2" y1="865.2" x2="510.1" y2="865.2" stroke="#111" stroke-width="1.5"/>
<line x1="339" y1="709" x2="343" y2="709" stroke="#111" stroke-width="1.2"/>
<text class="S" x="297.71" y="715.2" font-size="14.8" textLength="33.91" lengthAdjust="spacingAndGlyphs">8000</text>
<line x1="339" y1="747.5" x2="343" y2="747.5" stroke="#111" stroke-width="1.2"/>
<text class="S" x="297.71" y="753.7" font-size="14.8" textLength="33.91" lengthAdjust="spacingAndGlyphs">6000</text>
<line x1="339" y1="787" x2="343" y2="787" stroke="#111" stroke-width="1.2"/>
<text class="S" x="297.71" y="793.2" font-size="14.8" textLength="33.91" lengthAdjust="spacingAndGlyphs">4000</text>
<line x1="339" y1="826.1" x2="343" y2="826.1" stroke="#111" stroke-width="1.2"/>
<text class="S" x="297.71" y="832.3" font-size="14.8" textLength="33.91" lengthAdjust="spacingAndGlyphs">2000</text>
<line x1="339" y1="865.2" x2="343" y2="865.2" stroke="#111" stroke-width="1.2"/>
<text class="S" x="323.15" y="871.4" font-size="14.8" textLength="8.48" lengthAdjust="spacingAndGlyphs">0</text>
<rect x="366.3" y="864" width="2.6" height="2.4" fill="#fff"/>
<line x1="364.2" y1="867.2" x2="368" y2="863.2" stroke="#111" stroke-width="1.25"/>
<line x1="367.2" y1="867.2" x2="371" y2="863.2" stroke="#111" stroke-width="1.25"/>
<rect x="405.4" y="864" width="2.6" height="2.4" fill="#fff"/>
<line x1="403.3" y1="867.2" x2="407.1" y2="863.2" stroke="#111" stroke-width="1.25"/>
<line x1="406.3" y1="867.2" x2="410.1" y2="863.2" stroke="#111" stroke-width="1.25"/>
<rect x="445.6" y="864" width="2.6" height="2.4" fill="#fff"/>
<line x1="443.5" y1="867.2" x2="447.3" y2="863.2" stroke="#111" stroke-width="1.25"/>
<line x1="446.5" y1="867.2" x2="450.3" y2="863.2" stroke="#111" stroke-width="1.25"/>
<rect x="485.1" y="864" width="2.6" height="2.4" fill="#fff"/>
<line x1="483" y1="867.2" x2="486.8" y2="863.2" stroke="#111" stroke-width="1.25"/>
<line x1="486" y1="867.2" x2="489.8" y2="863.2" stroke="#111" stroke-width="1.25"/>
<line x1="347.9" y1="806" x2="387.4" y2="827.1" stroke="#1a1a1a" stroke-width="1.25"/>
<line x1="387.4" y1="827.1" x2="426.8" y2="797.6" stroke="#1a1a1a" stroke-width="1.25"/>
<line x1="426.8" y1="797.6" x2="465.9" y2="810.3" stroke="#1a1a1a" stroke-width="1.25"/>
<line x1="465.9" y1="810.3" x2="505.7" y2="811.8" stroke="#1a1a1a" stroke-width="1.25"/>
<rect x="345.4" y="803.7" width="5" height="4.6" fill="#000" stroke="#fff" stroke-width="2.6" paint-order="stroke"/>
<rect x="384.9" y="824.8" width="5" height="4.6" fill="#000" stroke="#fff" stroke-width="2.6" paint-order="stroke"/>
<rect x="424.3" y="795.3" width="5" height="4.6" fill="#000" stroke="#fff" stroke-width="2.6" paint-order="stroke"/>
<rect x="463.4" y="808" width="5" height="4.6" fill="#000" stroke="#fff" stroke-width="2.6" paint-order="stroke"/>
<rect x="503.2" y="809.5" width="5" height="4.6" fill="#000" stroke="#fff" stroke-width="2.6" paint-order="stroke"/>
<line x1="347.9" y1="725.6" x2="347.9" y2="835.2" stroke="#111" stroke-width="1.35"/>
<line x1="345.2" y1="725.6" x2="350.6" y2="725.6" stroke="#111" stroke-width="1.4"/>
<line x1="345.2" y1="835.2" x2="350.6" y2="835.2" stroke="#111" stroke-width="1.4"/>
<rect x="345.4" y="803.7" width="5" height="4.6" fill="#000"/>
<line x1="387.4" y1="810.3" x2="387.4" y2="842.9" stroke="#111" stroke-width="1.35"/>
<line x1="384.7" y1="810.3" x2="390.1" y2="810.3" stroke="#111" stroke-width="1.4"/>
<line x1="384.7" y1="842.9" x2="390.1" y2="842.9" stroke="#111" stroke-width="1.4"/>
<rect x="384.9" y="824.8" width="5" height="4.6" fill="#000"/>
<line x1="426.8" y1="759.2" x2="426.8" y2="832.3" stroke="#111" stroke-width="1.35"/>
<line x1="424.1" y1="759.2" x2="429.5" y2="759.2" stroke="#111" stroke-width="1.4"/>
<line x1="424.1" y1="832.3" x2="429.5" y2="832.3" stroke="#111" stroke-width="1.4"/>
<rect x="424.3" y="795.3" width="5" height="4.6" fill="#000"/>
<line x1="465.9" y1="762.5" x2="465.9" y2="831.2" stroke="#111" stroke-width="1.35"/>
<line x1="463.2" y1="762.5" x2="468.6" y2="762.5" stroke="#111" stroke-width="1.4"/>
<line x1="463.2" y1="831.2" x2="468.6" y2="831.2" stroke="#111" stroke-width="1.4"/>
<rect x="463.4" y="808" width="5" height="4.6" fill="#000"/>
<line x1="505.7" y1="785.1" x2="505.7" y2="828.6" stroke="#111" stroke-width="1.35"/>
<line x1="503" y1="785.1" x2="508.4" y2="785.1" stroke="#111" stroke-width="1.4"/>
<line x1="503" y1="828.6" x2="508.4" y2="828.6" stroke="#111" stroke-width="1.4"/>
<rect x="503.2" y="809.5" width="5" height="4.6" fill="#000"/>
<text class="S" x="343.87" y="886" font-size="14.8" textLength="8.48" lengthAdjust="spacingAndGlyphs">0</text>
<text class="S" x="382.79" y="886" font-size="14.8" textLength="8.48" lengthAdjust="spacingAndGlyphs">1</text>
<text class="S" x="418.47" y="886" font-size="14.8" textLength="16.96" lengthAdjust="spacingAndGlyphs">20</text>
<text class="S" x="457.65" y="886" font-size="14.8" textLength="16.96" lengthAdjust="spacingAndGlyphs">44</text>
<text class="S" x="491.34" y="886" font-size="14.8" textLength="25.43" lengthAdjust="spacingAndGlyphs">144</text>
<text class="S" x="336.98" y="906.4" font-size="14.6" textLength="179.36" lengthAdjust="spacingAndGlyphs">Hours after IVIG infusion</text>
<text class="S" transform="rotate(-90)" x="-826.03" y="291" font-size="15.3" textLength="80.6" lengthAdjust="spacingAndGlyphs">IgA (ng/ml)</text>
<text class="S" x="345.69" y="718.7" font-size="14.6" textLength="24.41" lengthAdjust="spacingAndGlyphs">IgA</text>
<g clip-path="url(#clipG)">
<line x1="71.1" y1="973.8" x2="71.1" y2="1131.1" stroke="#111" stroke-width="1.4"/>
<line x1="67.3" y1="1130.5" x2="238.3" y2="1130.5" stroke="#111" stroke-width="1.5"/>
<line x1="67.1" y1="973.8" x2="71.1" y2="973.8" stroke="#111" stroke-width="1.2"/>
<text class="S" x="34.89" y="980" font-size="14.8" textLength="25.43" lengthAdjust="spacingAndGlyphs">500</text>
<line x1="67.1" y1="1005.3" x2="71.1" y2="1005.3" stroke="#111" stroke-width="1.2"/>
<text class="S" x="34.89" y="1011.5" font-size="14.8" textLength="25.43" lengthAdjust="spacingAndGlyphs">400</text>
<line x1="67.1" y1="1036.8" x2="71.1" y2="1036.8" stroke="#111" stroke-width="1.2"/>
<text class="S" x="34.89" y="1043" font-size="14.8" textLength="25.43" lengthAdjust="spacingAndGlyphs">300</text>
<line x1="67.1" y1="1068.1" x2="71.1" y2="1068.1" stroke="#111" stroke-width="1.2"/>
<text class="S" x="34.89" y="1074.3" font-size="14.8" textLength="25.43" lengthAdjust="spacingAndGlyphs">200</text>
<line x1="67.1" y1="1099.2" x2="71.1" y2="1099.2" stroke="#111" stroke-width="1.2"/>
<text class="S" x="34.89" y="1105.4" font-size="14.8" textLength="25.43" lengthAdjust="spacingAndGlyphs">100</text>
<line x1="67.1" y1="1130.5" x2="71.1" y2="1130.5" stroke="#111" stroke-width="1.2"/>
<text class="S" x="51.85" y="1136.7" font-size="14.8" textLength="8.48" lengthAdjust="spacingAndGlyphs">0</text>
<rect x="95.2" y="1129.3" width="2.6" height="2.4" fill="#fff"/>
<line x1="93.1" y1="1132.5" x2="96.9" y2="1128.5" stroke="#111" stroke-width="1.25"/>
<line x1="96.1" y1="1132.5" x2="99.9" y2="1128.5" stroke="#111" stroke-width="1.25"/>
<rect x="134.7" y="1129.3" width="2.6" height="2.4" fill="#fff"/>
<line x1="132.6" y1="1132.5" x2="136.4" y2="1128.5" stroke="#111" stroke-width="1.25"/>
<line x1="135.6" y1="1132.5" x2="139.4" y2="1128.5" stroke="#111" stroke-width="1.25"/>
<rect x="173.1" y="1129.3" width="2.6" height="2.4" fill="#fff"/>
<line x1="171" y1="1132.5" x2="174.8" y2="1128.5" stroke="#111" stroke-width="1.25"/>
<line x1="174" y1="1132.5" x2="177.8" y2="1128.5" stroke="#111" stroke-width="1.25"/>
<rect x="212.2" y="1129.3" width="2.6" height="2.4" fill="#fff"/>
<line x1="210.1" y1="1132.5" x2="213.9" y2="1128.5" stroke="#111" stroke-width="1.25"/>
<line x1="213.1" y1="1132.5" x2="216.9" y2="1128.5" stroke="#111" stroke-width="1.25"/>
<line x1="76.4" y1="1079" x2="115.5" y2="1092.1" stroke="#1a1a1a" stroke-width="1.25"/>
<line x1="115.5" y1="1092.1" x2="155" y2="1044.6" stroke="#1a1a1a" stroke-width="1.25"/>
<line x1="155" y1="1044.6" x2="193.7" y2="1069.9" stroke="#1a1a1a" stroke-width="1.25"/>
<line x1="193.7" y1="1069.9" x2="232.8" y2="1073.1" stroke="#1a1a1a" stroke-width="1.25"/>
<rect x="73.9" y="1076.7" width="5" height="4.6" fill="#000" stroke="#fff" stroke-width="2.6" paint-order="stroke"/>
<rect x="113" y="1089.8" width="5" height="4.6" fill="#000" stroke="#fff" stroke-width="2.6" paint-order="stroke"/>
<rect x="152.5" y="1042.3" width="5" height="4.6" fill="#000" stroke="#fff" stroke-width="2.6" paint-order="stroke"/>
<rect x="191.2" y="1067.6" width="5" height="4.6" fill="#000" stroke="#fff" stroke-width="2.6" paint-order="stroke"/>
<rect x="230.3" y="1070.8" width="5" height="4.6" fill="#000" stroke="#fff" stroke-width="2.6" paint-order="stroke"/>
<line x1="76.4" y1="995.7" x2="76.4" y2="1094.7" stroke="#111" stroke-width="1.35"/>
<line x1="73.7" y1="995.7" x2="79.1" y2="995.7" stroke="#111" stroke-width="1.4"/>
<line x1="73.7" y1="1094.7" x2="79.1" y2="1094.7" stroke="#111" stroke-width="1.4"/>
<rect x="73.9" y="1076.7" width="5" height="4.6" fill="#000"/>
<line x1="115.5" y1="1073.9" x2="115.5" y2="1103.1" stroke="#111" stroke-width="1.35"/>
<line x1="112.8" y1="1073.9" x2="118.2" y2="1073.9" stroke="#111" stroke-width="1.4"/>
<line x1="112.8" y1="1103.1" x2="118.2" y2="1103.1" stroke="#111" stroke-width="1.4"/>
<rect x="113" y="1089.8" width="5" height="4.6" fill="#000"/>
<line x1="155" y1="994.2" x2="155" y2="1061.5" stroke="#111" stroke-width="1.35"/>
<line x1="152.3" y1="994.2" x2="157.7" y2="994.2" stroke="#111" stroke-width="1.4"/>
<line x1="152.3" y1="1061.5" x2="157.7" y2="1061.5" stroke="#111" stroke-width="1.4"/>
<rect x="152.5" y="1042.3" width="5" height="4.6" fill="#000"/>
<line x1="193.7" y1="1044.6" x2="193.7" y2="1080.5" stroke="#111" stroke-width="1.35"/>
<line x1="191" y1="1044.6" x2="196.4" y2="1044.6" stroke="#111" stroke-width="1.4"/>
<line x1="191" y1="1080.5" x2="196.4" y2="1080.5" stroke="#111" stroke-width="1.4"/>
<rect x="191.2" y="1067.6" width="5" height="4.6" fill="#000"/>
<line x1="232.8" y1="1037.3" x2="232.8" y2="1094.3" stroke="#111" stroke-width="1.35"/>
<line x1="230.1" y1="1037.3" x2="235.5" y2="1037.3" stroke="#111" stroke-width="1.4"/>
<line x1="230.1" y1="1094.3" x2="235.5" y2="1094.3" stroke="#111" stroke-width="1.4"/>
<rect x="230.3" y="1070.8" width="5" height="4.6" fill="#000"/>
<text class="S" x="71.97" y="1151" font-size="14.8" textLength="8.48" lengthAdjust="spacingAndGlyphs">0</text>
<text class="S" x="110.89" y="1151" font-size="14.8" textLength="8.48" lengthAdjust="spacingAndGlyphs">1</text>
<text class="S" x="145.37" y="1151" font-size="14.8" textLength="16.96" lengthAdjust="spacingAndGlyphs">20</text>
<text class="S" x="184.55" y="1151" font-size="14.8" textLength="16.96" lengthAdjust="spacingAndGlyphs">44</text>
<text class="S" x="219.64" y="1151" font-size="14.8" textLength="25.43" lengthAdjust="spacingAndGlyphs">144</text>
<text class="S" x="65.48" y="1170.8" font-size="14.6" textLength="179.46" lengthAdjust="spacingAndGlyphs">Hours after IVIG infusion</text>
<text class="S" transform="rotate(-90)" x="-1092.53" y="26.7" font-size="15.3" textLength="82.2" lengthAdjust="spacingAndGlyphs">IgM (ng/ml)</text>
<text class="S" x="73.36" y="983.8" font-size="14.6" textLength="26.78" lengthAdjust="spacingAndGlyphs">IgM</text>
</g>
<g clip-path="url(#clipH)">
<line x1="343.1" y1="972.1" x2="343.1" y2="1128.9" stroke="#111" stroke-width="1.4"/>
<line x1="339.3" y1="1128.3" x2="511.6" y2="1128.3" stroke="#111" stroke-width="1.5"/>
<line x1="339.1" y1="972.1" x2="343.1" y2="972.1" stroke="#111" stroke-width="1.2"/>
<text class="S" x="306.99" y="978.3" font-size="14.8" textLength="25.43" lengthAdjust="spacingAndGlyphs">500</text>
<line x1="339.1" y1="1003.3" x2="343.1" y2="1003.3" stroke="#111" stroke-width="1.2"/>
<text class="S" x="306.99" y="1009.5" font-size="14.8" textLength="25.43" lengthAdjust="spacingAndGlyphs">400</text>
<line x1="339.1" y1="1034.4" x2="343.1" y2="1034.4" stroke="#111" stroke-width="1.2"/>
<text class="S" x="306.99" y="1040.6" font-size="14.8" textLength="25.43" lengthAdjust="spacingAndGlyphs">300</text>
<line x1="339.1" y1="1065.9" x2="343.1" y2="1065.9" stroke="#111" stroke-width="1.2"/>
<text class="S" x="306.99" y="1072.1" font-size="14.8" textLength="25.43" lengthAdjust="spacingAndGlyphs">200</text>
<line x1="339.1" y1="1097.1" x2="343.1" y2="1097.1" stroke="#111" stroke-width="1.2"/>
<text class="S" x="306.99" y="1103.3" font-size="14.8" textLength="25.43" lengthAdjust="spacingAndGlyphs">100</text>
<line x1="339.1" y1="1128.3" x2="343.1" y2="1128.3" stroke="#111" stroke-width="1.2"/>
<text class="S" x="323.95" y="1134.5" font-size="14.8" textLength="8.48" lengthAdjust="spacingAndGlyphs">0</text>
<rect x="370" y="1127.1" width="2.6" height="2.4" fill="#fff"/>
<line x1="367.9" y1="1130.3" x2="371.7" y2="1126.3" stroke="#111" stroke-width="1.25"/>
<line x1="370.9" y1="1130.3" x2="374.7" y2="1126.3" stroke="#111" stroke-width="1.25"/>
<rect x="407.3" y="1127.1" width="2.6" height="2.4" fill="#fff"/>
<line x1="405.2" y1="1130.3" x2="409" y2="1126.3" stroke="#111" stroke-width="1.25"/>
<line x1="408.2" y1="1130.3" x2="412" y2="1126.3" stroke="#111" stroke-width="1.25"/>
<rect x="446.3" y="1127.1" width="2.6" height="2.4" fill="#fff"/>
<line x1="444.2" y1="1130.3" x2="448" y2="1126.3" stroke="#111" stroke-width="1.25"/>
<line x1="447.2" y1="1130.3" x2="451" y2="1126.3" stroke="#111" stroke-width="1.25"/>
<rect x="486.5" y="1127.1" width="2.6" height="2.4" fill="#fff"/>
<line x1="484.4" y1="1130.3" x2="488.2" y2="1126.3" stroke="#111" stroke-width="1.25"/>
<line x1="487.4" y1="1130.3" x2="491.2" y2="1126.3" stroke="#111" stroke-width="1.25"/>
<line x1="348.8" y1="1070.2" x2="388.5" y2="1085.6" stroke="#1a1a1a" stroke-width="1.25"/>
<line x1="388.5" y1="1085.6" x2="427.2" y2="1041.7" stroke="#1a1a1a" stroke-width="1.25"/>
<line x1="427.2" y1="1041.7" x2="466.6" y2="1067.3" stroke="#1a1a1a" stroke-width="1.25"/>
<line x1="466.6" y1="1067.3" x2="506.1" y2="1063.6" stroke="#1a1a1a" stroke-width="1.25"/>
<rect x="346.3" y="1067.9" width="5" height="4.6" fill="#000" stroke="#fff" stroke-width="2.6" paint-order="stroke"/>
<rect x="386" y="1083.3" width="5" height="4.6" fill="#000" stroke="#fff" stroke-width="2.6" paint-order="stroke"/>
<rect x="424.7" y="1039.4" width="5" height="4.6" fill="#000" stroke="#fff" stroke-width="2.6" paint-order="stroke"/>
<rect x="464.1" y="1065" width="5" height="4.6" fill="#000" stroke="#fff" stroke-width="2.6" paint-order="stroke"/>
<rect x="503.6" y="1061.3" width="5" height="4.6" fill="#000" stroke="#fff" stroke-width="2.6" paint-order="stroke"/>
<line x1="348.8" y1="987.7" x2="348.8" y2="1084.1" stroke="#111" stroke-width="1.35"/>
<line x1="346.1" y1="987.7" x2="351.5" y2="987.7" stroke="#111" stroke-width="1.4"/>
<line x1="346.1" y1="1084.1" x2="351.5" y2="1084.1" stroke="#111" stroke-width="1.4"/>
<rect x="346.3" y="1067.9" width="5" height="4.6" fill="#000"/>
<line x1="388.5" y1="1077.5" x2="388.5" y2="1095.8" stroke="#111" stroke-width="1.35"/>
<line x1="385.8" y1="1077.5" x2="391.2" y2="1077.5" stroke="#111" stroke-width="1.4"/>
<line x1="385.8" y1="1095.8" x2="391.2" y2="1095.8" stroke="#111" stroke-width="1.4"/>
<rect x="386" y="1083.3" width="5" height="4.6" fill="#000"/>
<line x1="427.2" y1="1005.2" x2="427.2" y2="1073.9" stroke="#111" stroke-width="1.35"/>
<line x1="424.5" y1="1005.2" x2="429.9" y2="1005.2" stroke="#111" stroke-width="1.4"/>
<line x1="424.5" y1="1073.9" x2="429.9" y2="1073.9" stroke="#111" stroke-width="1.4"/>
<rect x="424.7" y="1039.4" width="5" height="4.6" fill="#000"/>
<line x1="466.6" y1="1043.9" x2="466.6" y2="1072" stroke="#111" stroke-width="1.35"/>
<line x1="463.9" y1="1043.9" x2="469.3" y2="1043.9" stroke="#111" stroke-width="1.4"/>
<line x1="463.9" y1="1072" x2="469.3" y2="1072" stroke="#111" stroke-width="1.4"/>
<rect x="464.1" y="1065" width="5" height="4.6" fill="#000"/>
<line x1="506.1" y1="1029.3" x2="506.1" y2="1070.6" stroke="#111" stroke-width="1.35"/>
<line x1="503.4" y1="1029.3" x2="508.8" y2="1029.3" stroke="#111" stroke-width="1.4"/>
<line x1="503.4" y1="1070.6" x2="508.8" y2="1070.6" stroke="#111" stroke-width="1.4"/>
<rect x="503.6" y="1061.3" width="5" height="4.6" fill="#000"/>
<text class="S" x="344.57" y="1149" font-size="14.8" textLength="8.48" lengthAdjust="spacingAndGlyphs">0</text>
<text class="S" x="383.69" y="1149" font-size="14.8" textLength="8.48" lengthAdjust="spacingAndGlyphs">1</text>
<text class="S" x="419.27" y="1149" font-size="14.8" textLength="16.96" lengthAdjust="spacingAndGlyphs">20</text>
<text class="S" x="458.35" y="1149" font-size="14.8" textLength="16.96" lengthAdjust="spacingAndGlyphs">44</text>
<text class="S" x="492.74" y="1149" font-size="14.8" textLength="25.43" lengthAdjust="spacingAndGlyphs">144</text>
<text class="S" x="338.58" y="1169.5" font-size="14.6" textLength="179.67" lengthAdjust="spacingAndGlyphs">Hours after IVIG infusion</text>
<text class="S" transform="rotate(-90)" x="-1090.63" y="299" font-size="15.3" textLength="82.1" lengthAdjust="spacingAndGlyphs">IgM (ng/ml)</text>
<text class="S" x="346.26" y="981.2" font-size="14.6" textLength="26.78" lengthAdjust="spacingAndGlyphs">IgM</text>
</g>
</svg>
</body></html>
